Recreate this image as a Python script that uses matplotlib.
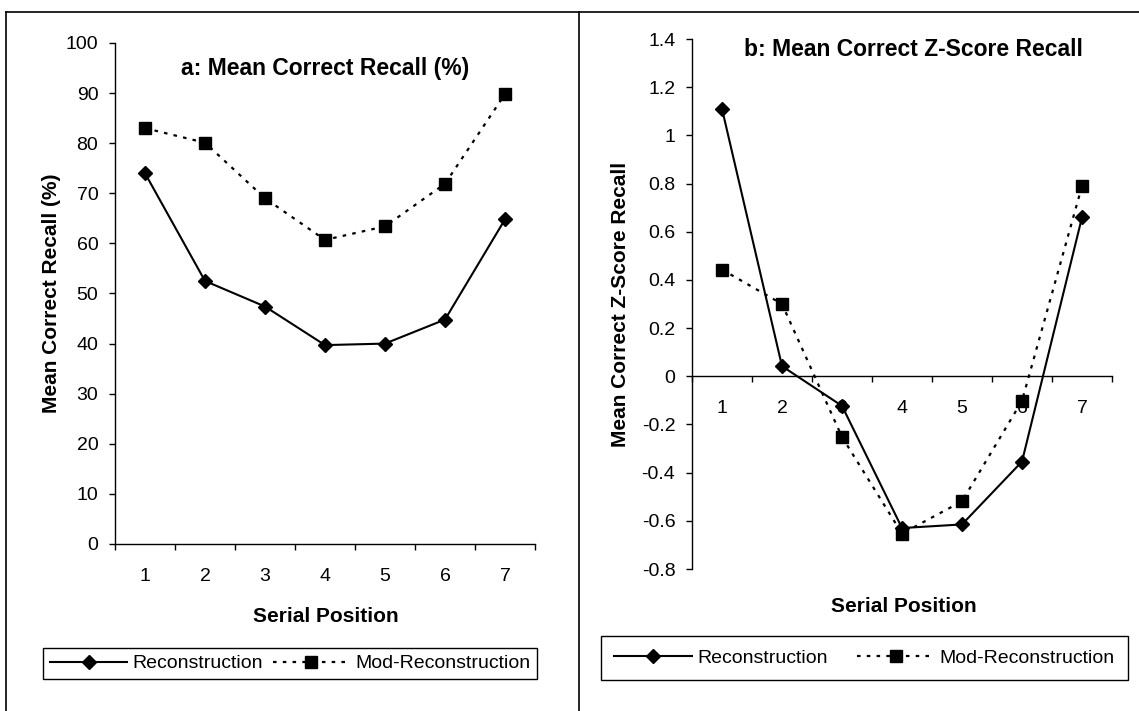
import matplotlib
matplotlib.use("Agg")
import matplotlib.pyplot as plt
from matplotlib.lines import Line2D
from matplotlib.ticker import FixedLocator, NullFormatter

plt.rcParams['font.family'] = ['Liberation Sans', 'DejaVu Sans']

# values
positions = [1, 2, 3, 4, 5, 6, 7]
recall_recon = [74.0, 52.5, 47.4, 39.7, 40.0, 44.8, 64.8]
recall_mod = [83.0, 80.1, 69.0, 60.7, 63.4, 71.9, 89.8]
z_recon = [1.11, 0.042, -0.123, -0.63, -0.615, -0.354, 0.66]
z_mod = [0.443, 0.30, -0.252, -0.653, -0.519, -0.102, 0.79]

recall_ticks = [0, 10, 20, 30, 40, 50, 60, 70, 80, 90, 100]
z_ticks = [-0.8, -0.6, -0.4, -0.2, 0, 0.2, 0.4, 0.6, 0.8, 1, 1.2, 1.4]
z_tick_labels = ['-0.8', '-0.6', '-0.4', '-0.2', '0', '0.2', '0.4',
                 '0.6', '0.8', '1', '1.2', '1.4']

W, H = 1139, 711


def fx(x):
    return x / W


def fy(y):
    return 1 - y / H


def style_axes(ax):
    """Excel-like axes: left spine and category axis with boundary ticks"""
    ax.spines['top'].set_visible(False)
    ax.spines['right'].set_visible(False)
    for s in ('left', 'bottom'):
        ax.spines[s].set_linewidth(1.0)
        ax.spines[s].set_color('black')
    ax.set_xlim(0.5, 7.5)
    ax.set_xticks(positions)
    ax.set_xticklabels([str(p) for p in positions])
    ax.xaxis.set_minor_locator(FixedLocator([i + 0.5 for i in range(8)]))
    ax.xaxis.set_minor_formatter(NullFormatter())
    ax.tick_params(axis='x', which='major', length=0, pad=17, labelsize=14)
    ax.tick_params(axis='x', which='minor', length=4, width=1.0, direction='out')
    ax.tick_params(axis='y', length=4, width=1.0, direction='out', pad=8,
                   labelsize=14)


def draw_series(ax, recon, mod):
    ax.plot(positions, recon, color='black', linewidth=1.5, marker='D',
            markersize=7, label='Reconstruction', clip_on=False, zorder=3)
    ax.plot(positions, mod, color='black', linewidth=1.6,
            linestyle=(0, (1.6, 2.8)), marker='s', markersize=8,
            label='Mod-Reconstruction', clip_on=False, zorder=3)


fig = plt.figure(figsize=(W / 100, H / 100), dpi=100)

# panel a
ax1 = fig.add_axes([fx(115), fy(544), (535 - 115) / W, (544 - 43) / H])
draw_series(ax1, recall_recon, recall_mod)
style_axes(ax1)
ax1.set_ylim(0, 100)
ax1.set_yticks(recall_ticks)

fig.text(fx(325), fy(68), 'a: Mean Correct Recall (%)', ha='center',
         va='center', fontsize=16.5, fontweight='bold')
fig.text(fx(52), fy(293), 'Mean Correct Recall (%)', rotation=90,
         ha='center', va='center', fontsize=15, fontweight='bold')
fig.text(fx(326), fy(617), 'Serial Position', ha='center', va='center',
         fontsize=15, fontweight='bold')

leg1 = ax1.legend(loc='center', bbox_to_anchor=(fx(290), fy(663.5)),
                  bbox_transform=fig.transFigure, ncol=2, fontsize=14,
                  handlelength=4.0, handletextpad=0.25, columnspacing=0.5,
                  borderpad=0.35, fancybox=False, framealpha=1,
                  edgecolor='black', borderaxespad=0)
leg1.get_frame().set_linewidth(1.0)

# panel b
ax2 = fig.add_axes([fx(692), fy(569), (1112 - 692) / W, (569 - 39) / H])
draw_series(ax2, z_recon, z_mod)
style_axes(ax2)
ax2.set_ylim(-0.8, 1.4)
ax2.set_yticks(z_ticks)
ax2.set_yticklabels(z_tick_labels)
ax2.spines['bottom'].set_position(('data', 0))

fig.text(fx(913), fy(50), 'b: Mean Correct Z-Score Recall', ha='center',
         va='center', fontsize=16.5, fontweight='bold')
fig.text(fx(621), fy(304), 'Mean Correct Z-Score Recall', rotation=90,
         ha='center', va='center', fontsize=15, fontweight='bold')
fig.text(fx(904), fy(607), 'Serial Position', ha='center', va='center',
         fontsize=15, fontweight='bold')

leg2 = ax2.legend(loc='center', bbox_to_anchor=(fx(864.5), fy(658)),
                  bbox_transform=fig.transFigure, ncol=2, fontsize=14,
                  handlelength=4.0, handletextpad=0.25, columnspacing=1.5,
                  borderpad=0.7, fancybox=False, framealpha=1,
                  edgecolor='black', borderaxespad=0)
leg2.get_frame().set_linewidth(1.0)

# outer chart frame and divider between the panels
for xs, ys in [((6, W), (12, 12)), ((6, 6), (12, H)), ((579, 579), (12, H))]:
    fig.add_artist(Line2D([fx(x) for x in xs], [fy(y) for y in ys],
                          color='black', linewidth=1.2))

plt.savefig('out.png', dpi=100)
